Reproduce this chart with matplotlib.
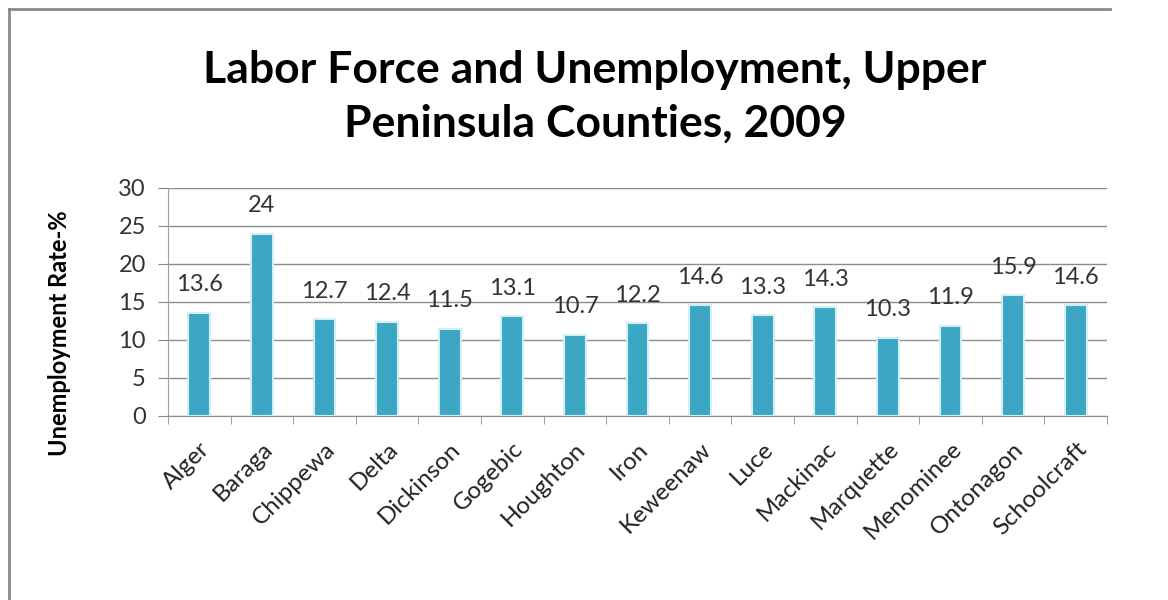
import numpy as np
import matplotlib
matplotlib.use("Agg")
import matplotlib.pyplot as plt
from matplotlib.lines import Line2D

counties = ["Alger", "Baraga", "Chippewa", "Delta", "Dickinson", "Gogebic",
            "Houghton", "Iron", "Keweenaw", "Luce", "Mackinac", "Marquette",
            "Menominee", "Ontonagon", "Schoolcraft"]
rates = [13.6, 24, 12.7, 12.4, 11.5, 13.1, 10.7, 12.2, 14.6, 13.3, 14.3,
         10.3, 11.9, 15.9, 14.6]
yticks = [0, 5, 10, 15, 20, 25, 30]

plt.rcParams["font.family"] = ["Lato", "DejaVu Sans"]

fig = plt.figure(figsize=(11.68, 6), dpi=100)
ax = fig.add_axes([168 / 1168, 1 - 416 / 600, 939 / 1168, 228 / 600])

x = np.arange(len(counties))
bars = ax.bar(x, rates, width=0.35, color="#3ba7c5",
              edgecolor="#d4eef6", linewidth=1.5, zorder=3)

for xi, v in zip(x, rates):
    ax.annotate(f"{v:g}", (xi, v), xytext=(0, 20), textcoords="offset points",
                ha="center", va="center", fontsize=17, color="#333333")

ax.set_xlim(-0.5, len(counties) - 0.5)
ax.set_ylim(0, 30)
ax.set_yticks(yticks)
ax.set_yticklabels([str(t) for t in yticks], fontsize=17, color="#333333")
ax.set_xticks(x)
ax.set_xticklabels(counties, rotation=45, ha="right", rotation_mode="anchor",
                   fontsize=17.5, color="#222222")
ax.set_xticks(np.arange(-0.5, len(counties)), minor=True)
ax.tick_params(axis="x", which="major", length=0, pad=16)
ax.tick_params(axis="x", which="minor", length=6, color="#888888")
ax.tick_params(axis="y", length=7, color="#888888", pad=9)

ax.grid(axis="y", color="#8c8c8c", linewidth=1, zorder=0)
for s in ["top", "right"]:
    ax.spines[s].set_visible(False)
ax.spines["left"].set_color("#a0a0a0")
ax.spines["bottom"].set_color("#8c8c8c")

ax.set_ylabel("Unemployment Rate-%", fontsize=17, fontweight="bold")
ax.yaxis.set_label_coords(-0.103, 0.364)

fig.text(595 / 1168, 1 - 97 / 600,
         "Labor Force and Unemployment, Upper\nPeninsula Counties, 2009",
         ha="center", va="center", fontsize=32, fontweight="bold",
         linespacing=1.4)

# outer chart frame (top and left edges visible)
fig.add_artist(Line2D([9 / 1168, 1110 / 1168], [1 - 9 / 600, 1 - 9 / 600],
                      transform=fig.transFigure, color="#8a8a8a", linewidth=2))
fig.add_artist(Line2D([9 / 1168, 9 / 1168], [0, 1 - 9 / 600],
                      transform=fig.transFigure, color="#8a8a8a", linewidth=2))

fig.savefig("out.png", dpi=100)
